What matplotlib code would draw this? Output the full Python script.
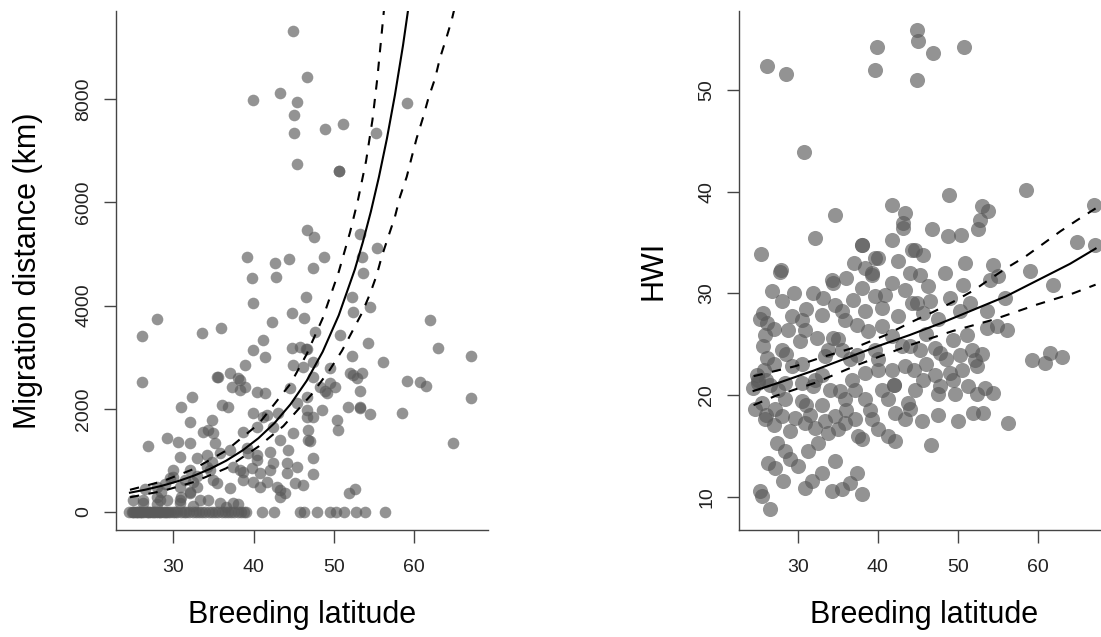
import matplotlib
matplotlib.use("Agg")
import matplotlib.pyplot as plt

# left panel: migration distance vs breeding latitude
mig_lat = [44.94, 46.7, 43.3, 39.96, 45.37, 45.03, 45.07, 45.37, 59.07, 48.9, 51.17, 55.24,
           50.67, 50.67, 46.6, 47.52, 53.25, 55.4, 48.77, 47.43, 53.46, 39.14, 42.66, 44.45,
           42.75, 39.76, 53.66, 39.96, 46.5, 52.22, 54.5, 52.4, 27.93, 26.07, 33.53, 35.9,
           42.25, 44.74, 46.3, 61.97, 47.65, 50.76, 54.28, 63.0, 67.1, 41.2, 41.42, 39.96,
           44.74, 46.5, 45.78, 52.22, 56.08, 38.93, 44.94, 46.19, 49.52, 52.0, 53.46, 52.84,
           59.07, 60.72, 61.47, 67.1, 50.14, 49.1, 53.25, 51.8, 53.25, 54.5, 58.44, 64.8,
           46.6, 48.48, 47.43, 50.35, 50.55, 46.8, 47.0, 47.43, 47.43, 46.19, 51.92, 52.63,
           26.07, 35.6, 37.06, 38.3, 37.27, 38.93, 40.39, 41.42, 45.37, 32.29, 30.92, 32.08,
           36.03, 36.85, 34.79, 34.36, 34.98, 35.19, 39.96, 41.2, 43.07, 38.72, 40.39, 26.89,
           29.18, 30.62, 32.08, 30.83, 32.91, 34.79, 37.06, 39.14, 40.39, 42.04, 43.3, 44.94,
           44.32, 42.45, 44.12, 45.37, 45.16, 30.0, 32.08, 34.57, 38.3, 39.76, 40.8, 42.04,
           38.72, 40.8, 42.88, 43.91, 37.06, 35.4, 32.91, 29.59, 27.93, 32.08, 34.36, 30.83,
           28.34, 26.26, 38.3, 38.1, 35.4, 35.82, 34.16, 34.16, 34.98, 37.47, 38.72, 39.96,
           39.34, 40.39, 41.63, 33.74, 53.25, 52.4, 47.43, 47.43, 46.6, 44.53, 46.6, 46.8,
           44.12, 43.3, 43.3, 42.45, 41.63, 46.6, 48.27, 49.52, 48.9, 32.49, 30.0, 30.83,
           32.08, 33.32, 30.83, 26.26, 37.47, 35.82, 27.93, 29.18, 25.02, 29.0, 31.5, 33.0,
           26.5, 28.5, 31.0, 28.0, 32.5, 36.5, 38.0,
           # zero migrants
           24.5, 24.8, 25.1, 25.3, 25.6, 25.9, 26.1, 26.4, 26.7, 27.0, 27.2, 27.5, 27.8, 28.1,
           28.4, 28.7, 29.0, 29.3, 29.6, 29.9, 30.2, 30.5, 30.9, 31.3, 31.6, 32.0, 32.4, 32.8,
           33.2, 33.6, 34.0, 34.4, 34.8, 35.2, 35.6, 36.0, 36.4, 36.8, 37.2, 37.6, 38.0, 38.4,
           38.8, 39.1, 41.0, 42.5, 45.8, 46.3, 47.9, 49.5, 50.3, 51.2, 52.8, 53.9, 56.4,
           25.0, 25.5, 26.0, 26.9, 27.6, 28.3, 29.1]
mig_km = [9328, 8424, 8126, 7984, 7952, 7694, 7339, 6744, 7920, 7417, 7519, 7339,
          6614, 6614, 5465, 5324, 5382, 5110, 4936, 4723, 4948, 4948, 4820, 4909,
          4560, 4529, 4626, 4044, 4172, 4172, 3967, 3882, 3734, 3411, 3475, 3560,
          3688, 3851, 3754, 3721, 3494, 3430, 3281, 3172, 3023, 3333, 3010, 3140,
          3172, 3160, 3204, 3023, 2913, 2849, 2849, 2816, 2785, 2688, 2688, 2591,
          2545, 2525, 2442, 2203, 2428, 2300, 2351, 2041, 2029, 1899, 1913, 1343,
          1977, 1977, 1847, 1783, 1589, 1589, 1382, 1041, 736, 523, 374, 440,
          2525, 2622, 2688, 2558, 2428, 2428, 2332, 2300, 2106, 2223, 2041, 1750,
          2074, 2041, 1783, 1589, 1525, 1331, 1913, 1847, 1913, 1556, 1653, 1279,
          1428, 1362, 1343, 1072, 1041, 975, 1202, 1234, 1105, 1169, 1395, 1525,
          1202, 944, 944, 878, 556, 814, 814, 814, 814, 847, 750, 814,
          620, 490, 490, 362, 459, 556, 490, 653, 490, 393, 232, 232,
          232, 232, 2364, 2591, 2610, 1137, 1105, 878, 620, 878, 781, 587,
          1137, 1008, 587, 1556, 2010, 2655, 2622, 2913, 3153, 2397, 1847, 1395,
          750, 426, 297, 1653, 1880, 2234, 2428, 2494, 2351, 587, 684, 490,
          362, 232, 168, 168, 168, 168, 297, 232, 232, 550, 620, 700,
          450, 380, 300, 150, 120, 100, 150,
          0, 0, 0, 0, 0, 0, 0, 0, 0, 0, 0, 0, 0, 0,
          0, 0, 0, 0, 0, 0, 0, 0, 0, 0, 0, 0, 0, 0,
          0, 0, 0, 0, 0, 0, 0, 0, 0, 0, 0, 0, 0, 0,
          0, 0, 0, 0, 0, 0, 0, 0, 0, 0, 0, 0, 0,
          0, 0, 0, 0, 0, 0, 0]

# fitted curve and confidence band
mig_fit_lat = [24.6, 26.6, 28.6, 30.6, 32.6, 34.6, 36.6, 38.6, 40.6, 42.6, 44.6, 46.6,
               48.6, 50.6, 52.6, 53.6, 54.6, 55.6, 56.6, 57.6, 58.6, 59.6]
mig_fit_km = [374, 435, 509, 598, 706, 837, 996, 1191, 1430, 1724, 2089, 2541,
              3106, 3812, 4699, 5230, 5822, 6490, 7238, 8085, 9040, 10125]
mig_up_lat = [24.6, 28.6, 32.6, 36.6, 40.6, 44.6, 46.6, 48.6, 50.6, 52.0, 53.0, 54.0,
              54.8, 55.4, 55.95, 56.3]
mig_up_km = [430, 592, 837, 1192, 1703, 2487, 3057, 3754, 4655, 5418, 6050, 6800,
             7600, 8400, 9280, 9840]
mig_lo_lat = [24.6, 28.6, 32.6, 36.6, 40.6, 43.7, 47.2, 49.5, 51.0, 52.2, 53.5, 54.5, 55.33,
              55.95, 56.77, 57.6, 58.23, 59.07, 59.7, 60.3, 61.13, 61.76, 62.6, 63.2, 64.05,
              64.67, 65.0]
mig_lo_km = [285, 404, 583, 848, 1268, 1665, 2275, 2760, 3125, 3475, 3860, 4230, 4593,
             4948, 5335, 5723, 6110, 6498, 6886, 7242, 7661, 8017, 8405, 8793, 9211,
             9535, 9750]

# right panel: HWI vs breeding latitude
hwi_lat = [26.14, 28.51, 39.95, 39.66, 44.87, 45.07, 44.94, 46.87, 50.81, 30.8, 25.43, 27.89,
           32.17, 34.67, 41.75, 43.41, 43.2, 43.2, 41.75, 38.0, 38.0, 39.66, 42.57, 44.24,
           38.41, 39.25, 34.26, 48.94, 58.48, 52.98, 53.81, 52.77, 52.56, 46.74, 48.81, 50.36,
           67.04, 64.84, 67.13, 44.66, 45.7, 50.9, 54.43, 48.4, 59.01, 45.28, 55.06,
           27.8, 26.77, 28.02, 25.72, 26.14, 25.93, 25.72, 26.14, 28.02, 29.26, 30.51, 28.84,
           30.92, 30.3, 32.38, 31.96, 33.21, 33.0, 34.46, 34.67, 35.5, 35.92, 34.46, 33.83,
           35.5, 37.38, 38.41, 36.96, 38.0, 39.25, 39.66, 40.91, 41.75, 43.41, 44.24, 40.5,
           42.57, 38.83, 40.5, 41.75, 39.66, 37.38, 43.0, 43.41, 41.75, 40.08, 38.41, 32.17,
           30.51, 28.43, 25.09, 25.09, 24.47, 25.51, 24.68, 25.93, 27.18, 28.02, 28.43, 30.51,
           31.96, 35.29, 37.17, 38.41, 35.92, 29.68, 30.92, 32.17, 33.42, 34.67, 35.92, 37.17,
           33.83, 35.08, 32.58, 31.34, 27.39, 28.43, 29.05, 30.09, 26.34, 27.18, 34.67, 38.0,
           39.25, 40.08, 41.32, 42.16, 43.41, 42.16, 43.82, 41.32, 28.21, 25.31, 25.51, 26.55,
           30.92, 31.76, 33.0, 34.26, 35.5, 36.54, 37.38, 38.0,
           46.32, 50.69, 54.02, 61.92, 44.87, 46.53, 45.7, 50.27, 53.61, 55.89, 56.1, 54.86,
           53.61, 51.11, 49.44, 47.15, 45.28, 47.78, 51.74, 52.15, 52.36, 50.27, 59.22, 60.89,
           61.51, 62.97, 45.7, 47.15, 47.78, 49.03, 49.44, 44.66, 44.03, 51.31, 49.65, 52.36,
           53.4, 54.43, 47.57, 45.49, 47.57, 50.06, 51.93, 53.18, 56.31, 46.62, 44.03,
           29.26, 33.42, 30.5, 33.0, 36.5, 35.0, 24.9, 26.0, 27.0, 31.0, 36.8, 40.0, 42.0,
           25.3, 25.8, 26.5, 27.5, 26.0, 27.0, 29.0, 31.5, 33.0, 34.0, 36.0, 37.5, 39.0,
           40.5, 42.0, 44.5, 46.0, 48.5, 50.5, 53.0, 46.0, 47.5, 49.0, 51.5, 44.0, 40.0,
           36.0, 37.0, 31.0, 29.5, 27.0, 28.5]
hwi_val = [52.37, 51.58, 54.2, 51.97, 55.9, 54.85, 50.99, 53.6, 54.2, 43.95, 33.9, 32.33,
           35.44, 37.73, 38.64, 37.9, 36.92, 36.43, 35.28, 34.78, 34.78, 33.48, 33.14, 34.29,
           32.5, 32.0, 31.35, 39.7, 40.12, 38.55, 38.06, 37.24, 36.33, 36.33, 35.6, 35.77,
           38.71, 35.01, 34.78, 34.29, 33.8, 32.99, 32.82, 32.0, 32.16, 31.84, 31.67,
           32.06, 30.2, 29.21, 28.07, 27.09, 25.94, 24.79, 23.65, 24.47, 27.74, 27.42, 26.43,
           26.43, 25.29, 25.62, 30.04, 29.55, 27.91, 31.02, 28.89, 28.23, 27.42, 25.62, 24.47,
           24.47, 26.93, 28.23, 29.38, 30.53, 31.84, 29.71, 29.87, 31.02, 30.36, 29.06, 28.57,
           27.74, 26.27, 26.76, 25.78, 24.47, 23.98, 24.79, 22.83, 22.5, 22.5, 22.18, 21.52,
           21.2, 21.2, 21.2, 21.5, 20.71, 19.23, 18.58, 17.59, 18.58, 17.92, 19.56, 19.39,
           20.87, 20.37, 20.54, 19.56, 19.56, 17.76, 17.27, 16.78, 17.43, 17.92, 17.27, 17.59,
           16.29, 16.61, 15.3, 14.48, 15.3, 14.48, 13.66, 13.0, 13.34, 12.85, 13.5, 15.63,
           17.59, 16.61, 15.95, 15.46, 17.59, 18.25, 19.23, 19.56, 11.53, 10.55, 10.06, 8.75,
           10.88, 11.53, 12.36, 10.55, 10.72, 11.38, 12.36, 10.23,
           30.69, 30.85, 31.35, 30.85, 29.06, 29.21, 28.07, 28.23, 28.23, 29.55, 26.43, 26.76,
           26.6, 25.94, 25.45, 24.64, 24.47, 24.15, 24.47, 23.49, 22.83, 23.98, 23.49, 23.16,
           24.15, 23.75, 21.52, 22.01, 20.86, 22.18, 21.52, 20.54, 18.58, 20.86, 20.05, 20.05,
           20.71, 20.22, 20.05, 17.43, 18.08, 17.43, 18.25, 18.25, 17.2, 15.07, 24.79,
           22.83, 23.81, 23.0, 22.0, 23.5, 25.5, 22.0, 21.5, 23.0, 19.0, 21.5, 23.5, 21.0,
           27.5, 22.5, 21.0, 20.5, 18.0, 17.0, 16.5, 18.0, 19.0, 20.5, 18.5, 16.0, 18.5,
           20.5, 21.0, 22.5, 23.0, 23.5, 22.5, 24.0, 26.0, 27.5, 29.5, 29.0, 32.0, 33.5,
           31.5, 33.0, 28.5, 30.0, 26.5, 24.0]

hwi_fit_lat = [24.5, 28.0, 32.0, 36.0, 40.0, 44.0, 48.0, 52.0, 56.0, 60.0, 64.0, 67.2]
hwi_fit_val = [20.4, 21.3, 22.4, 23.6, 24.8, 25.9, 27.1, 28.4, 29.7, 31.3, 32.9, 34.4]
hwi_up_lat = [24.5, 29.7, 33.0, 37.6, 41.0, 44.0, 47.0, 49.5, 52.0, 54.0, 56.1, 58.4, 60.7,
              62.8, 64.9, 67.2]
hwi_up_val = [21.85, 22.83, 23.7, 24.8, 25.9, 27.1, 28.2, 29.2, 30.3, 31.4, 32.5, 33.6, 34.9,
              36.1, 37.2, 38.35]
hwi_lo_lat = [24.5, 27.2, 32.2, 37.6, 44.0, 49.4, 54.4, 59.9, 64.4, 67.2]
hwi_lo_val = [19.0, 19.9, 21.2, 23.0, 24.9, 26.3, 27.4, 28.9, 30.0, 30.85]

plt.rcParams['font.family'] = ['Liberation Sans', 'DejaVu Sans']

fig = plt.figure(figsize=(11.01, 6.37), dpi=100)
ax1 = fig.add_axes([0.10536, 0.16797, 0.33797, 0.81476])
ax2 = fig.add_axes([0.67121, 0.16797, 0.33697, 0.81476])

pt_col = '#5a5a5a'
ax1.scatter(mig_lat, mig_km, s=70, color=pt_col, alpha=0.65, linewidths=0, zorder=2)
ax2.scatter(hwi_lat, hwi_val, s=118, color=pt_col, alpha=0.65, linewidths=0, zorder=2)

ax1.plot(mig_fit_lat, mig_fit_km, color='black', lw=1.5, zorder=3)
ax1.plot(mig_up_lat, mig_up_km, color='black', lw=1.5, dashes=(4.5, 4.5), zorder=3)
ax1.plot(mig_lo_lat, mig_lo_km, color='black', lw=1.5, dashes=(4.5, 4.5), zorder=3)
ax2.plot(hwi_fit_lat, hwi_fit_val, color='black', lw=1.5, zorder=3)
ax2.plot(hwi_up_lat, hwi_up_val, color='black', lw=1.5, dashes=(4.5, 4.5), zorder=3)
ax2.plot(hwi_lo_lat, hwi_lo_val, color='black', lw=1.5, dashes=(4.5, 4.5), zorder=3)

ax1.set_xlim(22.86, 69.2)
ax1.set_ylim(-349, 9709)
ax2.set_xlim(22.68, 69.0)
ax2.set_ylim(6.72, 57.77)

ax1.set_xticks([30, 40, 50, 60])
ax1.set_yticks([0, 2000, 4000, 6000, 8000])
ax2.set_xticks([30, 40, 50, 60])
ax2.set_yticks([10, 20, 30, 40, 50])

for ax in (ax1, ax2):
    for side in ('top', 'right'):
        ax.spines[side].set_visible(False)
    for side in ('left', 'bottom'):
        ax.spines[side].set_color('#444444')
        ax.spines[side].set_linewidth(1.0)
    ax.tick_params(direction='out', length=9, width=1.0, color='#444444',
                   labelsize=14, labelcolor='#222222')
    ax.tick_params(axis='x', pad=12)
    ax.tick_params(axis='y', pad=8)
    for lab in ax.get_yticklabels():
        lab.set_rotation(90)
        lab.set_va('center')
    ax.set_xlabel('Breeding latitude', fontsize=22)
    ax.xaxis.set_label_coords(0.5, -0.135)

ax1.set_ylabel('Migration distance (km)', fontsize=22)
ax1.yaxis.set_label_coords(-0.196, 0.5)
ax2.set_ylabel('HWI', fontsize=22)
ax2.yaxis.set_label_coords(-0.19, 0.5)

fig.savefig('out.png', dpi=100)
